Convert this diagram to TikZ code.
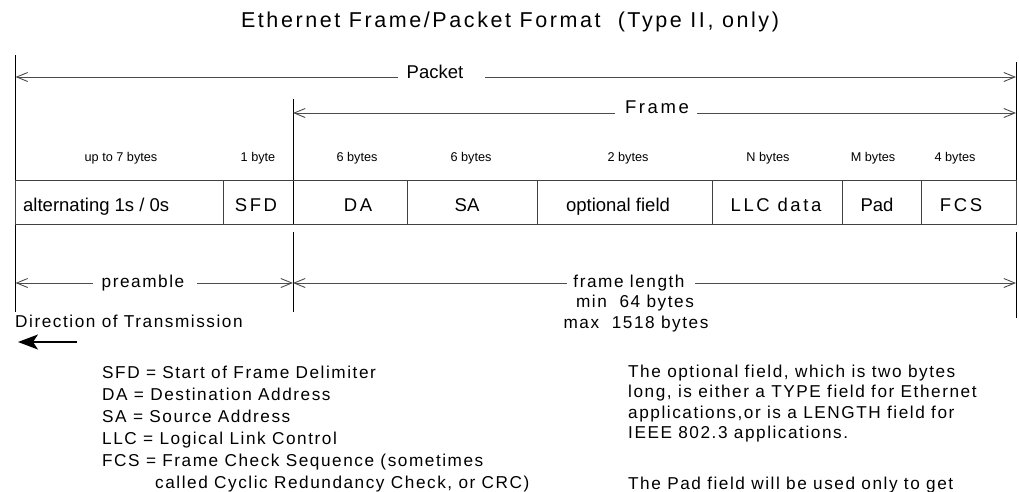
\documentclass[tikz,border=0pt]{standalone}
\usepackage{fontspec}
\setmainfont{Liberation Sans}
\newfontfamily\spfont[LetterSpace=9]{Liberation Sans}
\newfontfamily\titlefont[LetterSpace=12]{Liberation Sans}
\newfontfamily\cellsp[LetterSpace=14]{Liberation Sans}
\usetikzlibrary{arrows.meta}
\begin{document}
\begin{tikzpicture}[x=1pt,y=-1pt,
  dim/.style={draw=black!70, line width=0.9pt, -{Straight Barb[length=11pt,width=9pt]}},
  vline/.style={draw=black, line width=0.9pt},
  cellline/.style={draw=black!75, line width=0.9pt},
  lbl/.style={inner sep=0pt, anchor=base},
  lblw/.style={inner sep=0pt, anchor=base west},
  bigtxt/.style={font=\fontsize{18.5}{20}\selectfont},
  bytestxt/.style={font=\fontsize{12.7}{14}\selectfont},
  legtxt/.style={font=\spfont\fontsize{17.2}{19}\selectfont},
  dirarrow/.style={draw=black, line width=1.6pt, -{Stealth[length=20pt,width=15pt,inset=5pt]}}
]
\useasboundingbox (0,0) rectangle (1019,491);

% title
\node[lbl] (title) at (510,27) {\titlefont\fontsize{21.5}{24}\selectfont Ethernet Frame/Packet Format\ \ (Type II, only)};

% vertical lines
\coordinate (L-top) at (15.5,55);
\coordinate (L-bot) at (15.5,312);
\coordinate (M-top) at (293,99);
\coordinate (M-mid1) at (293,224);
\coordinate (M-mid2) at (293,232);
\coordinate (M-bot) at (293,312);
\coordinate (R-top) at (1016,62);
\coordinate (R-mid1) at (1016,224);
\coordinate (R-mid2) at (1016,232);
\coordinate (R-bot) at (1016,318);
\draw[vline] (L-top) -- (L-bot);
\draw[vline] (M-top) -- (M-mid1);
\draw[vline] (M-mid2) -- (M-bot);
\draw[vline] (R-top) -- (R-mid1);
\draw[vline] (R-mid2) -- (R-bot);

% Packet
\node[lbl, bigtxt] (packet) at (435,78) {Packet};
\coordinate (pk-l) at (15.5,77);
\coordinate (pk-r) at (1016,77);
\coordinate (pk-gl) at (398,77);
\coordinate (pk-gr) at (485,77);
\draw[dim] (pk-gl) -- (pk-l);
\draw[dim] (pk-gr) -- (pk-r);

% Frame
\node[lbl, bigtxt] (frame) at (657,113.5) {\cellsp Frame};
\coordinate (fr-l) at (293,113);
\coordinate (fr-r) at (1016,113);
\coordinate (fr-gl) at (615,113);
\coordinate (fr-gr) at (697,113);
\draw[dim] (fr-gl) -- (fr-l);
\draw[dim] (fr-gr) -- (fr-r);

% byte counts
\node[lbl, bytestxt] (b1) at (121,161.5) {up to 7 bytes};
\node[lbl, bytestxt] (b2) at (258,161.5) {1 byte};
\node[lbl, bytestxt] (b3) at (357,161.5) {6 bytes};
\node[lbl, bytestxt] (b4) at (471,161.5) {6 bytes};
\node[lbl, bytestxt] (b5) at (628,161.5) {2 bytes};
\node[lbl, bytestxt] (b6) at (768,161.5) {N bytes};
\node[lbl, bytestxt] (b7) at (873,161.5) {M bytes};
\node[lbl, bytestxt] (b8) at (955,161.5) {4 bytes};

% table
\draw[cellline] (15.5,180) rectangle (1016,224);
\foreach \x in {223,407,537,712,842,921} \draw[cellline] (\x,180) -- (\x,224);
\node[lblw, bigtxt] (c1) at (23,211) {alternating 1s / 0s};
\node[lbl, bigtxt] (c2) at (256,211) {\cellsp SFD};
\node[lbl, bigtxt] (c3) at (358,211) {\cellsp DA};
\node[lbl, bigtxt] (c4) at (467,211) {SA};
\node[lbl, bigtxt] (c5) at (618,211) {optional field};
\node[lbl, bigtxt] (c6) at (776,211) {\cellsp LLC data};
\node[lbl, bigtxt] (c7) at (877,211) {Pad};
\node[lbl, bigtxt] (c8) at (961,211) {\cellsp FCS};

% preamble
\node[lbl, legtxt] (pre) at (143,287) {preamble};
\coordinate (pr-l) at (15.5,283);
\coordinate (pr-r) at (293,283);
\coordinate (pr-gl) at (93,283);
\coordinate (pr-gr) at (197,283);
\draw[dim] (pr-gl) -- (pr-l);
\draw[dim] (pr-gr) -- (pr-r);

% frame length
\node[lbl, legtxt] (flen) at (629,287) {frame length};
\node[lbl, legtxt] (fmin) at (635,307) {min\ \ 64 bytes};
\node[lbl, legtxt] (fmax) at (636,328) {max\ \ 1518 bytes};
\coordinate (fl-l) at (293,283);
\coordinate (fl-r) at (1016,283);
\coordinate (fl-gl) at (567,283);
\coordinate (fl-gr) at (695,283);
\draw[dim] (fl-gl) -- (fl-l);
\draw[dim] (fl-gr) -- (fl-r);

% direction
\node[lblw, legtxt] (dir) at (15,327) {Direction of Transmission};
\coordinate (dir-s) at (77,342);
\coordinate (dir-e) at (18,342);
\draw[dirarrow] (dir-s) -- (dir-e);

% legend
\node[lblw, legtxt] (lg1) at (102,378) {SFD = Start of Frame Delimiter};
\node[lblw, legtxt] (lg2) at (102,400) {DA = Destination Address};
\node[lblw, legtxt] (lg3) at (102,422) {SA = Source Address};
\node[lblw, legtxt] (lg4) at (102,444) {LLC = Logical Link Control};
\node[lblw, legtxt] (lg5) at (102,466) {FCS = Frame Check Sequence (sometimes};
\node[lblw, legtxt] (lg6) at (155,488) {called Cyclic Redundancy Check, or CRC)};

% notes
\node[lblw, legtxt] (n1) at (628,377) {The optional field, which is two bytes};
\node[lblw, legtxt] (n2) at (628,397.5) {long, is either a TYPE field for Ethernet};
\node[lblw, legtxt] (n3) at (628,418) {applications,or is a LENGTH field for};
\node[lblw, legtxt] (n4) at (628,438.5) {IEEE 802.3 applications.};
\node[lblw, legtxt] (n5) at (628,489) {The Pad field will be used only to get};
\end{tikzpicture}
\end{document}
